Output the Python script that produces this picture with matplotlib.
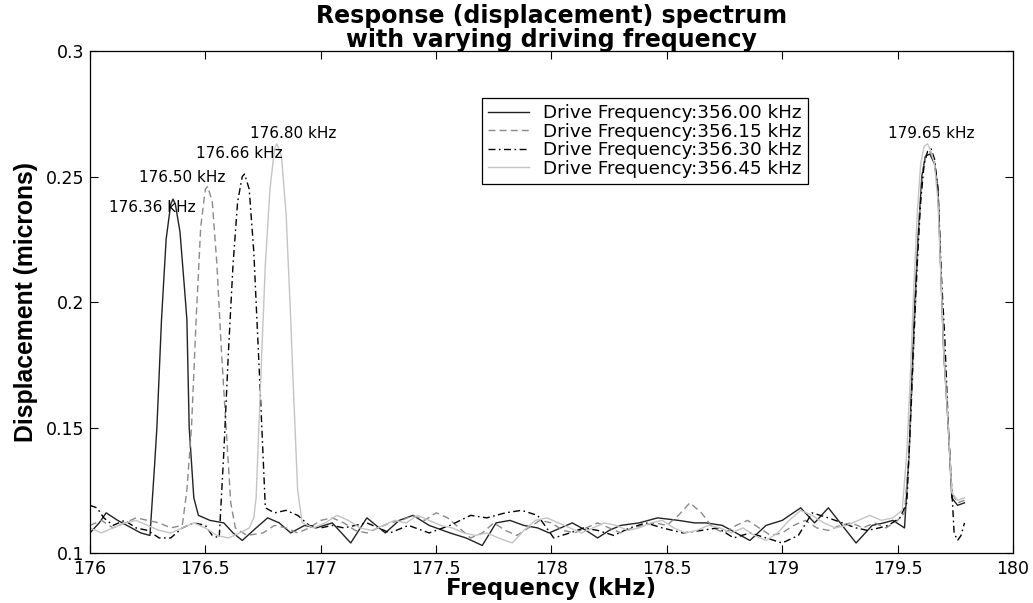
import matplotlib
matplotlib.use("Agg")
import matplotlib.pyplot as plt

# --- data (frequency in kHz, displacement in microns) ---
labels = [
    "Drive Frequency:356.00 kHz",
    "Drive Frequency:356.15 kHz",
    "Drive Frequency:356.30 kHz",
    "Drive Frequency:356.45 kHz",
]

f1 = [176.00, 176.04, 176.07, 176.12, 176.18, 176.22, 176.26, 176.28, 176.29, 176.31,
      176.33, 176.35, 176.36, 176.37, 176.39, 176.41, 176.42, 176.43, 176.45, 176.47,
      176.52, 176.58, 176.62, 176.66, 176.72, 176.77, 176.82, 176.87, 176.93, 176.98,
      177.05, 177.13, 177.20, 177.28, 177.34, 177.40, 177.47, 177.56, 177.63, 177.70,
      177.76, 177.82, 177.88, 177.94, 177.99, 178.04, 178.09, 178.15, 178.20, 178.25,
      178.30, 178.38, 178.46, 178.55, 178.62, 178.67, 178.74, 178.80, 178.86, 178.93,
      179.00, 179.08, 179.14, 179.20, 179.26, 179.32, 179.39, 179.44, 179.48, 179.53,
      179.55, 179.56, 179.575, 179.59, 179.605, 179.62, 179.64, 179.66, 179.675, 179.69,
      179.70, 179.72, 179.735, 179.76, 179.79]
d1 = [0.108, 0.112, 0.116, 0.113, 0.110, 0.108, 0.107, 0.135, 0.150, 0.193,
      0.225, 0.239, 0.241, 0.239, 0.228, 0.205, 0.193, 0.150, 0.122, 0.115,
      0.113, 0.112, 0.108, 0.105, 0.110, 0.114, 0.112, 0.108, 0.111, 0.110,
      0.112, 0.104, 0.114, 0.108, 0.113, 0.115, 0.111, 0.108, 0.106, 0.103,
      0.112, 0.113, 0.111, 0.110, 0.108, 0.110, 0.112, 0.109, 0.106, 0.109,
      0.111, 0.112, 0.114, 0.113, 0.112, 0.112, 0.111, 0.108, 0.105, 0.111,
      0.113, 0.118, 0.112, 0.118, 0.111, 0.104, 0.111, 0.112, 0.113, 0.110,
      0.140, 0.165, 0.200, 0.228, 0.250, 0.258, 0.259, 0.255, 0.245, 0.205,
      0.180, 0.150, 0.122, 0.119, 0.120]

f2 = [176.00, 176.05, 176.10, 176.15, 176.20, 176.25, 176.30, 176.35, 176.40,
      176.42, 176.44, 176.46, 176.48, 176.50, 176.51, 176.53, 176.55, 176.57, 176.59,
      176.61, 176.63,
      176.68, 176.75, 176.80, 176.85, 176.90, 176.95,
      177.00, 177.05, 177.10, 177.15, 177.20, 177.25, 177.30, 177.35, 177.40, 177.45,
      177.50, 177.55, 177.60, 177.65, 177.70, 177.75, 177.80, 177.85, 177.90, 177.95,
      178.00, 178.05, 178.10, 178.15, 178.20, 178.25, 178.30, 178.35, 178.40, 178.45,
      178.50, 178.55, 178.60, 178.65, 178.70, 178.75, 178.80, 178.85, 178.90, 178.95,
      179.00, 179.05, 179.10, 179.15, 179.20, 179.25, 179.30, 179.35, 179.40, 179.45,
      179.50,
      179.53, 179.55, 179.565, 179.58, 179.595, 179.61, 179.625, 179.64, 179.66, 179.675,
      179.69, 179.70, 179.72, 179.735, 179.76, 179.79]
d2 = [0.111, 0.113, 0.110, 0.112, 0.114, 0.113, 0.112, 0.110, 0.111,
      0.125, 0.150, 0.193, 0.230, 0.245, 0.246, 0.240, 0.215, 0.180, 0.150,
      0.120, 0.110,
      0.107, 0.108, 0.111, 0.110, 0.108, 0.110,
      0.113, 0.114, 0.112, 0.109, 0.108, 0.110, 0.112, 0.113, 0.115, 0.113,
      0.116, 0.114, 0.110, 0.106, 0.108, 0.112, 0.109, 0.107, 0.110, 0.113,
      0.112, 0.109, 0.108, 0.110, 0.112, 0.110, 0.108, 0.110, 0.111, 0.112,
      0.111, 0.115, 0.120, 0.116, 0.110, 0.108, 0.111, 0.113, 0.110, 0.107,
      0.108, 0.111, 0.113, 0.110, 0.109, 0.111, 0.112, 0.110, 0.112, 0.110,
      0.113,
      0.116, 0.140, 0.170, 0.205, 0.235, 0.252, 0.259, 0.260, 0.256, 0.245,
      0.205, 0.180, 0.150, 0.124, 0.120, 0.121]

f3 = [176.00, 176.03, 176.06, 176.10, 176.15, 176.20, 176.25, 176.30, 176.35, 176.40,
      176.45, 176.50, 176.53, 176.56,
      176.58, 176.60, 176.62, 176.64, 176.66, 176.67, 176.69, 176.71, 176.73, 176.74,
      176.76,
      176.80, 176.85, 176.90, 176.95,
      177.00, 177.05, 177.10, 177.15, 177.20, 177.25, 177.30,
      177.38, 177.47, 177.56, 177.65, 177.72, 177.80, 177.87, 177.94,
      178.01, 178.08, 178.14, 178.20, 178.27, 178.34, 178.41, 178.48, 178.57, 178.65,
      178.72, 178.79, 178.86, 178.93,
      179.00, 179.07, 179.13, 179.20, 179.26, 179.32, 179.37, 179.42, 179.46, 179.51,
      179.54, 179.555, 179.57, 179.585, 179.60, 179.615, 179.63, 179.645, 179.66, 179.675,
      179.69, 179.705, 179.72, 179.735, 179.745, 179.76, 179.775, 179.79]
d3 = [0.119, 0.118, 0.114, 0.111, 0.113, 0.110, 0.109, 0.106, 0.106, 0.110,
      0.112, 0.111, 0.107, 0.106,
      0.140, 0.180, 0.215, 0.240, 0.250, 0.251, 0.245, 0.220, 0.180, 0.160,
      0.118,
      0.116, 0.117, 0.115, 0.111,
      0.110, 0.111, 0.110, 0.111, 0.112, 0.110, 0.108,
      0.111, 0.108, 0.111, 0.115, 0.114, 0.116, 0.117, 0.115,
      0.106, 0.108, 0.110, 0.109, 0.107, 0.110, 0.112, 0.110, 0.108, 0.109,
      0.110, 0.106, 0.108, 0.106,
      0.104, 0.107, 0.116, 0.114, 0.112, 0.110, 0.109, 0.110, 0.111, 0.114,
      0.120, 0.150, 0.185, 0.215, 0.240, 0.255, 0.260, 0.261, 0.257, 0.245,
      0.210, 0.185, 0.150, 0.125, 0.108, 0.105, 0.107, 0.112]

f4 = [176.00, 176.05, 176.10, 176.15, 176.20, 176.25, 176.30, 176.35, 176.40, 176.45,
      176.50, 176.55, 176.60, 176.65,
      176.69, 176.71, 176.72, 176.74, 176.76, 176.78, 176.80, 176.81, 176.83, 176.85,
      176.87, 176.88, 176.90, 176.92,
      176.97, 177.02, 177.07, 177.12, 177.17, 177.22, 177.27, 177.32, 177.37, 177.42,
      177.47, 177.52, 177.57, 177.62, 177.67, 177.72, 177.77,
      177.83, 177.88, 177.93, 177.98,
      178.03, 178.08, 178.13, 178.18, 178.23, 178.28, 178.33, 178.38, 178.43, 178.48,
      178.53, 178.58, 178.63, 178.68, 178.73, 178.78, 178.83, 178.88, 178.93, 178.98,
      179.03, 179.08, 179.13, 179.18, 179.23, 179.28, 179.33, 179.38, 179.43, 179.48,
      179.52, 179.54, 179.555, 179.57, 179.585, 179.60, 179.615, 179.63, 179.645, 179.66,
      179.675, 179.69, 179.70, 179.72, 179.735, 179.76, 179.79]
d4 = [0.110, 0.108, 0.110, 0.112, 0.113, 0.111, 0.109, 0.108, 0.110, 0.112,
      0.110, 0.107, 0.106, 0.108,
      0.110, 0.114, 0.122, 0.169, 0.215, 0.245, 0.261, 0.263, 0.258, 0.235,
      0.193, 0.169, 0.125, 0.112,
      0.110, 0.112, 0.115, 0.113, 0.110, 0.109, 0.111, 0.113, 0.112, 0.115,
      0.113, 0.111, 0.110, 0.108, 0.107, 0.108, 0.106,
      0.104, 0.109, 0.113, 0.114,
      0.112, 0.110, 0.108, 0.110, 0.112, 0.111, 0.109, 0.110, 0.112, 0.113,
      0.110, 0.108, 0.109, 0.111, 0.110, 0.108, 0.110, 0.107, 0.105, 0.108,
      0.113, 0.117, 0.115, 0.112, 0.110, 0.111, 0.113, 0.115, 0.113, 0.114,
      0.117, 0.140, 0.170, 0.205, 0.235, 0.255, 0.262, 0.263, 0.260, 0.255,
      0.240, 0.205, 0.180, 0.150, 0.124, 0.121, 0.122]

# peak annotations: text, x, y (data coords of label centre)
peak_text = ["176.36 kHz", "176.50 kHz", "176.66 kHz", "176.80 kHz", "179.65 kHz"]
peak_x = [176.271, 176.399, 176.646, 176.882, 179.645]
peak_y = [0.2378, 0.2498, 0.2590, 0.2673, 0.2673]

x_ticks = [176, 176.5, 177, 177.5, 178, 178.5, 179, 179.5, 180]
x_tick_labels = ["176", "176.5", "177", "177.5", "178", "178.5", "179", "179.5", "180"]
y_ticks = [0.1, 0.15, 0.2, 0.25, 0.3]
y_tick_labels = ["0.1", "0.15", "0.2", "0.25", "0.3"]


# -------------------------
# --- figure and styles ---
# -------------------------
fig = plt.figure(figsize=(10.33, 6.03), dpi=100)
ax = fig.add_axes([0.0871, 0.0829, 0.8935, 0.8325])

ax.plot(f1, d1, color="#222222", lw=1.0, linestyle="-", label=labels[0])
ax.plot(f2, d2, color="#8a8a8a", lw=1.0, linestyle=(0, (5, 3)), label=labels[1])
ax.plot(f3, d3, color="#000000", lw=1.0, linestyle=(0, (5, 2.5, 1.2, 2.5)), label=labels[2])
ax.plot(f4, d4, color="#c4c4c4", lw=1.0, linestyle="-", label=labels[3])

for t, x, y in zip(peak_text, peak_x, peak_y):
    ax.text(x, y, t, ha="center", va="center", fontsize=11, color="black")

ax.set_xlim(176, 180)
ax.set_ylim(0.1, 0.3)
ax.set_xticks(x_ticks)
ax.set_xticklabels(x_tick_labels)
ax.set_yticks(y_ticks)
ax.set_yticklabels(y_tick_labels)
ax.tick_params(direction="in", length=6, width=0.8, labelsize=12.5,
               top=True, right=True)
ax.tick_params(axis="x", pad=5)
ax.tick_params(axis="y", pad=4)
for s in ax.spines.values():
    s.set_linewidth(0.9)

ax.set_xlabel("Frequency (kHz)", fontsize=16.5, fontweight="bold", labelpad=-1)
ax.set_ylabel("Displacement (microns)", fontsize=17.8, fontweight="bold",
              family="Liberation Sans", labelpad=6)
ax.set_title("Response (displacement) spectrum\nwith varying driving frequency",
             fontsize=17, fontweight="bold", linespacing=1.0, pad=3)

leg = ax.legend(loc="upper left", bbox_to_anchor=(482 / 1033, 1 - 98 / 603),
                bbox_transform=fig.transFigure, borderaxespad=0, fontsize=13.2,
                labelspacing=0.02, handlelength=2.2, handletextpad=0.8,
                borderpad=0.35, fancybox=False, framealpha=1)
leg.get_frame().set_edgecolor("black")
leg.get_frame().set_linewidth(0.9)

fig.savefig("out.png", dpi=100)
